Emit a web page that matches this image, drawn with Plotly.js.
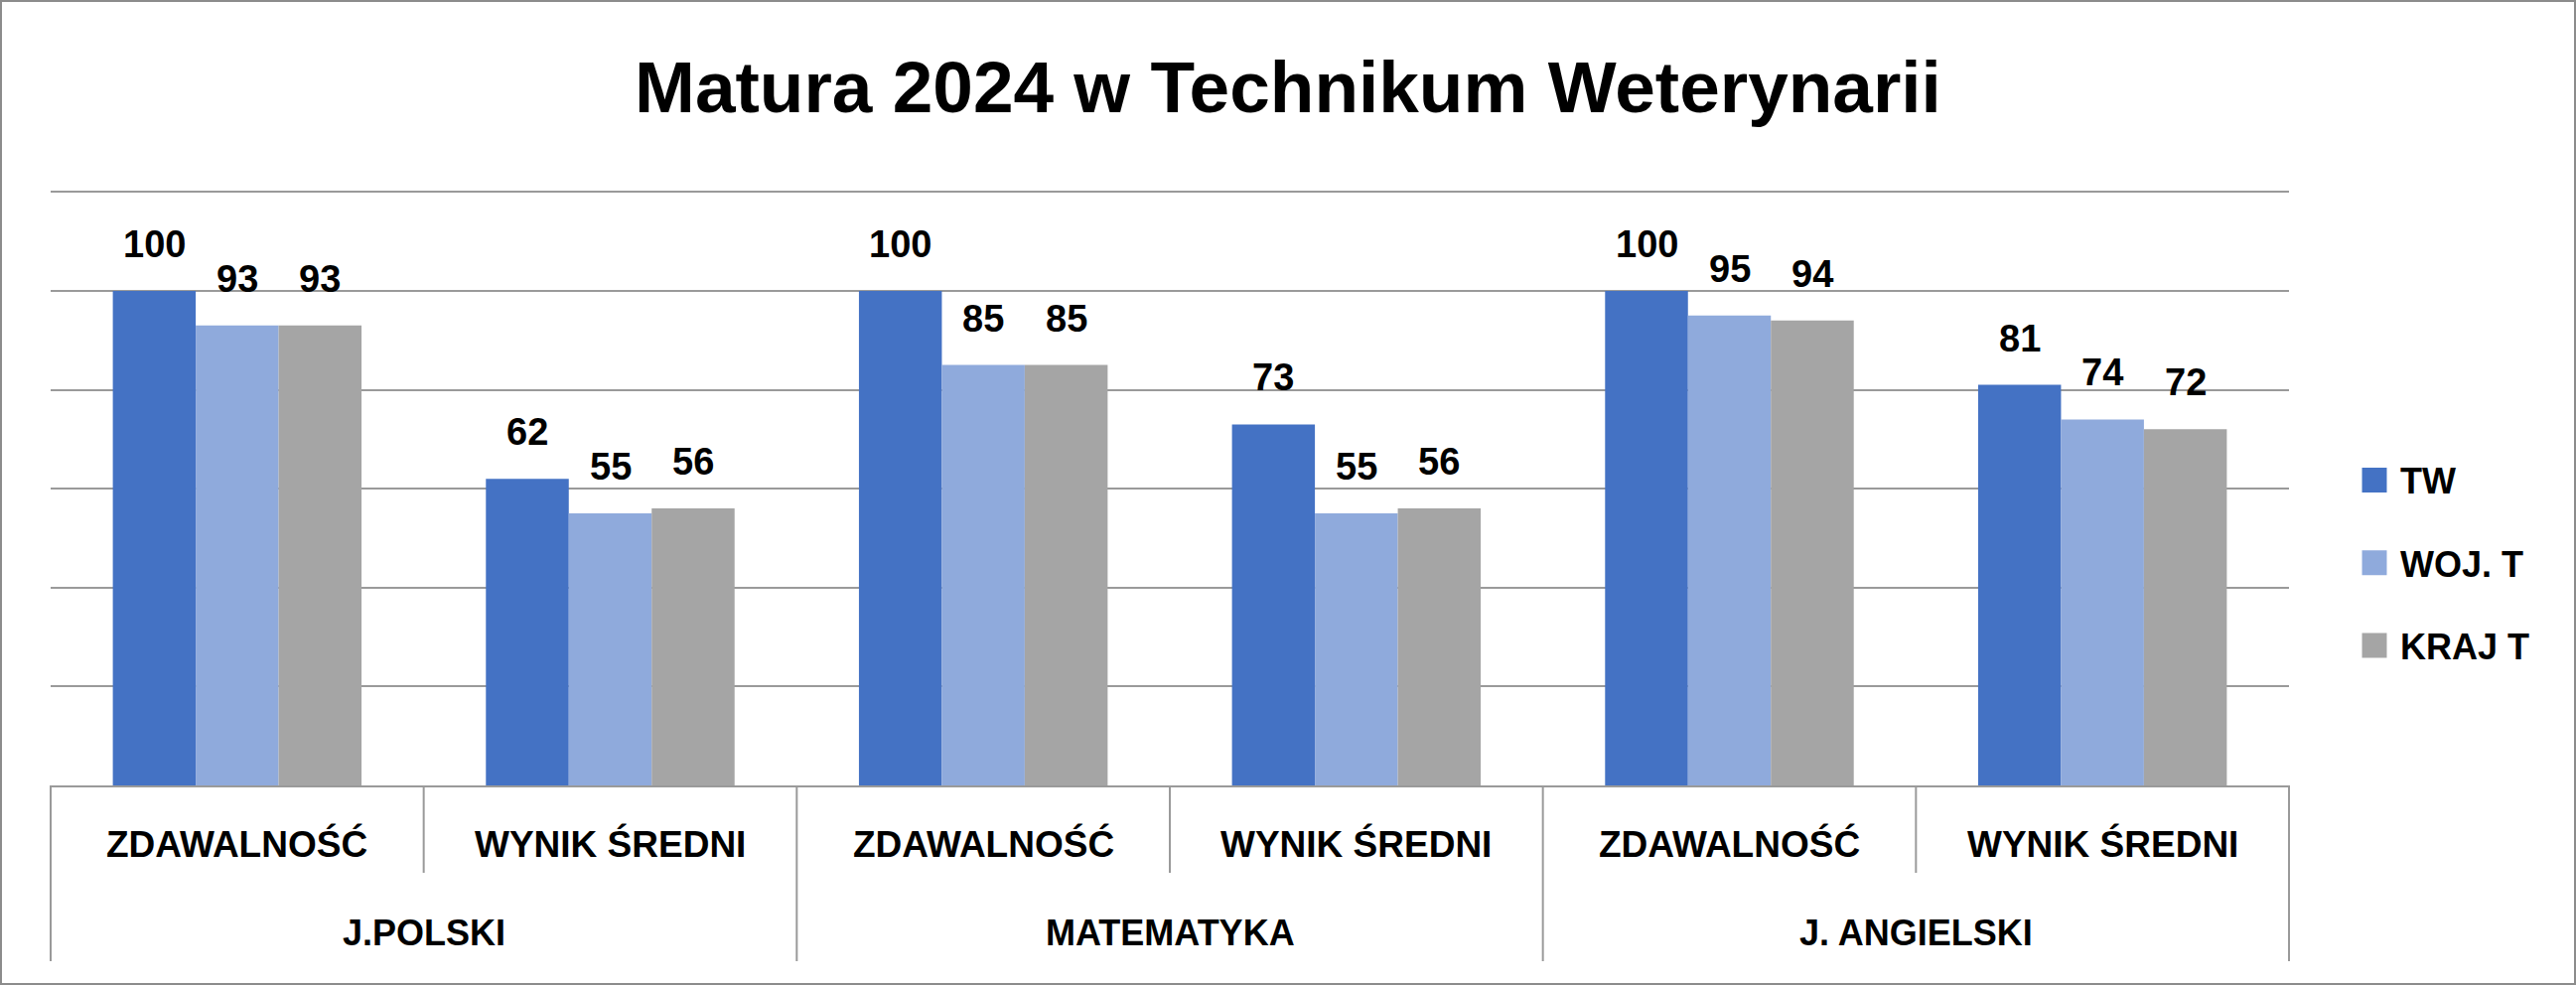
<!DOCTYPE html>
<html>
<head>
<meta charset="utf-8">
<script src="https://cdn.plot.ly/plotly-3.0.1.min.js"></script>
<style>
html,body{margin:0;padding:0;background:#ffffff;}
#wrap{position:relative;width:2594px;height:992px;}
#chart{width:2594px;height:992px;}
#frame{position:absolute;left:0;top:0;width:2594px;height:992px;box-sizing:border-box;border:2px solid #8c8c8c;pointer-events:none;}
</style>
</head>
<body>
<div id="wrap"><div id="chart"></div><div id="frame"></div></div>
<script>
// ---- data ----
const subjects = ['J.POLSKI', 'J.POLSKI', 'MATEMATYKA', 'MATEMATYKA', 'J. ANGIELSKI', 'J. ANGIELSKI'];
const measures = ['ZDAWALNOŚĆ', 'WYNIK ŚREDNI', 'ZDAWALNOŚĆ', 'WYNIK ŚREDNI', 'ZDAWALNOŚĆ', 'WYNIK ŚREDNI'];
const seriesNames = ['TW', 'WOJ. T', 'KRAJ T'];
const twValues   = [100, 62, 100, 73, 100, 81];
const wojValues  = [93, 55, 85, 55, 95, 74];
const krajValues = [93, 56, 85, 56, 94, 72];
const titleText = 'Matura 2024 w Technikum Weterynarii';

// ---- style ----
const seriesValues = [twValues, wojValues, krajValues];
const colors = ['#4472C4', '#8FAADC', '#A5A5A5'];
const FONT = 'Liberation Sans, Arial, sans-serif';
const GRID = '#9a9a9a';
const bargap = 1/3;
const N = measures.length;
const nS = seriesNames.length;

const traces = seriesNames.map((name, k) => ({
  type: 'bar',
  name: name,
  legendgroup: 'g' + k,
  x: [subjects, measures],
  y: seriesValues[k],
  marker: {color: colors[k], line: {width: 0}},
  hoverinfo: 'skip'
}));

const annotations = [];
const w = (1 - bargap) / nS;
seriesValues.forEach((vals, k) => {
  vals.forEach((v, i) => {
    annotations.push({
      xref: 'x2', yref: 'y', x: i + (k - (nS - 1) / 2) * w, y: v,
      text: String(v), showarrow: false, xanchor: 'center', yanchor: 'bottom',
      yshift: 24, font: {family: FONT, size: 38, color: '#000', weight: 'bold'}
    });
  });
});
measures.forEach((m, i) => {
  annotations.push({
    xref: 'x2', yref: 'paper', x: i, y: 0, yshift: -59,
    text: m, showarrow: false, xanchor: 'center', yanchor: 'middle',
    font: {family: FONT, size: 37, color: '#000', weight: 'bold'}
  });
});
const groups = [];
subjects.forEach((s, i) => {
  if (!groups.length || groups[groups.length - 1].name !== s) groups.push({name: s, idx: [i]});
  else groups[groups.length - 1].idx.push(i);
});
groups.forEach(g => {
  const c = g.idx.reduce((a, b) => a + b, 0) / g.idx.length;
  annotations.push({
    xref: 'x2', yref: 'paper', x: c, y: 0, yshift: -148,
    text: g.name, showarrow: false, xanchor: 'center', yanchor: 'middle',
    font: {family: FONT, size: 36, color: '#000', weight: 'bold'}
  });
});

const shapes = [];
for (let i = 0; i <= N; i++) {
  const outer = (i === 0 || i === N || subjects[i] !== subjects[i - 1]);
  shapes.push({
    type: 'line', xref: 'paper', yref: 'paper', x0: i / N, x1: i / N,
    ysizemode: 'pixel', yanchor: 0, y0: 0, y1: outer ? -177 : -88,
    line: {color: GRID, width: 2}
  });
}

const layout = {
  width: 2594, height: 992,
  margin: {l: 51, r: 289, t: 189, b: 201, pad: 0},
  paper_bgcolor: '#ffffff', plot_bgcolor: '#ffffff',
  font: {family: FONT, color: '#000'},
  title: {
    text: titleText, x: 0.5, xref: 'container', xanchor: 'center',
    y: 1 - 87 / 992, yref: 'container', yanchor: 'middle',
    font: {family: FONT, size: 73, color: '#000', weight: 'bold'}
  },
  barmode: 'group', bargap: bargap, bargroupgap: 0,
  xaxis: {
    type: 'multicategory', showticklabels: false, showdividers: false, ticks: '',
    showline: true, linecolor: GRID, linewidth: 2, showgrid: false, zeroline: false
  },
  xaxis2: {overlaying: 'x', type: 'linear', range: [-0.5, N - 0.5], visible: false, showgrid: false, zeroline: false},
  yaxis: {
    range: [0, 120.86], tick0: 0, dtick: 20, showgrid: true, gridcolor: GRID, gridwidth: 2,
    showticklabels: false, ticks: '', zeroline: false, showline: false
  },
  showlegend: true,
  legend: {
    x: (2377 - 51) / 2254, xanchor: 'left', y: (791 - 567) / 602, yanchor: 'middle',
    traceorder: 'grouped', tracegroupgap: 33.5, bgcolor: 'rgba(0,0,0,0)',
    font: {family: FONT, size: 36, color: '#000', weight: 'bold'}
  },
  annotations: annotations,
  shapes: shapes
};

Plotly.newPlot('chart', traces, layout, {staticPlot: true, displayModeBar: false, responsive: false}).then(gd => {
  gd.querySelectorAll('.legendpoints path').forEach(p => {
    p.setAttribute('transform', (p.getAttribute('transform') || '') + ' translate(-6,0) scale(2.08)');
  });
});
</script>
</body>
</html>
